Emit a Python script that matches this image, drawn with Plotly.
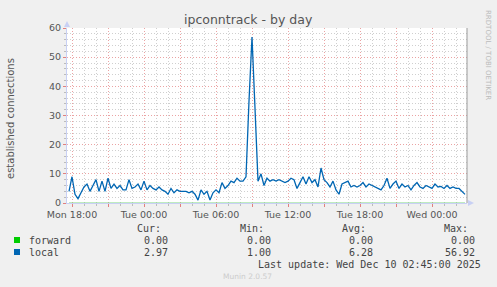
import pandas as pd
import plotly.graph_objects as go

# ---- data (15-minute samples, Mon Dec 8 17:45 -> Wed Dec 10 02:45) ----
start_time = "2025-12-08 17:45"
local_values = [
    4, 9, 3, 1.5, 3.5, 5.5, 6.5, 4, 6, 8,
    4, 7.5, 4, 8.5, 5, 6.5, 5, 6, 4.5, 4.5,
    8, 5, 5.5, 6.5, 4.5, 7.5, 4.5, 6, 5, 4.5,
    5.5, 4.5, 4, 3, 5, 3.5, 4.5, 4, 4, 4,
    3.5, 4, 3, 1, 4.5, 3, 4, 1, 3.5, 4.5,
    3.5, 7, 5, 6, 7.5, 7, 8.5, 7.5, 7.5, 9,
    35, 56.92, 32.5, 7.5, 10, 6, 8.5, 7.5, 8, 7.5,
    8, 7.5, 7, 7.5, 8.5, 8, 5, 7, 9, 6.5,
    9, 7, 8, 5.5, 12, 8, 7, 5.5, 7.5, 4.5,
    3, 6.5, 7, 7.5, 5.5, 6, 5.5, 6, 7, 5.5,
    6.5, 6, 5.5, 5, 4.5, 6, 8.5, 5, 6.5, 7.5,
    5, 6.5, 5.5, 6, 4.5, 6, 7, 5.5, 5, 6,
    5.5, 5, 6.5, 5.5, 5.7, 5, 6, 5, 5.5, 5,
    5, 4, 2.97,
]
forward_values = [0.0] * len(local_values)
times = pd.date_range(start_time, periods=len(local_values), freq="15min")

series_names = ["forward", "local"]
series_colors = ["#00CC00", "#0066B3"]
cur_vals = ["0.00", "2.97"]
min_vals = ["0.00", "1.00"]
avg_vals = ["0.00", "6.28"]
max_vals = ["0.00", "56.92"]

tick_times = ["2025-12-08 18:00", "2025-12-08 21:00", "2025-12-09 00:00", "2025-12-09 03:00",
              "2025-12-09 06:00", "2025-12-09 09:00", "2025-12-09 12:00", "2025-12-09 15:00",
              "2025-12-09 18:00", "2025-12-09 21:00", "2025-12-10 00:00"]
tick_labels = ["Mon 18:00", "", "Tue 00:00", "", "Tue 06:00", "", "Tue 12:00", "",
               "Tue 18:00", "", "Wed 00:00"]

# ---- geometry ----
W, H = 497, 287
L, R, T, B = 67, 467, 28, 203


def px(x):
    return (x - L) / (R - L)


def py(y):
    return (B - y) / (B - T)


fig = go.Figure()
fig.add_trace(go.Scatter(x=times, y=forward_values, mode="lines",
                         line=dict(color="#80D880", width=1.2), hoverinfo="skip"))
fig.add_trace(go.Scatter(x=times, y=local_values, mode="lines",
                         line=dict(color=series_colors[1], width=1.3), hoverinfo="skip"))

grid_minor = "#CFCFCF"
grid_major = "#EBA3A3"
axis_col = "#C8D0F4"
txt = "#555555"
dots = "1px,2px"

fig.update_layout(
    width=W, height=H,
    margin=dict(l=L, r=W - R, t=T, b=H - B, pad=0),
    paper_bgcolor="#F0F0F0", plot_bgcolor="#FFFFFF",
    showlegend=False,
    font=dict(family="DejaVu Sans", size=9.5, color=txt),
    xaxis=dict(
        type="date",
        range=["2025-12-08 17:35", "2025-12-10 02:55"],
        tickmode="array", tickvals=tick_times, ticktext=tick_labels,
        showgrid=True, gridcolor=grid_major, griddash=dots, gridwidth=1,
        ticks="outside", ticklen=3, tickcolor="#E08080",
        showline=True, linecolor=axis_col, linewidth=1,
        zeroline=False,
        tickfont=dict(size=9.5, color=txt),
        minor=dict(dtick=3600000, tick0="2025-12-08 18:00", showgrid=True,
                   gridcolor=grid_minor, griddash=dots, ticks="outside",
                   ticklen=2, tickcolor="#BBBBBB"),
    ),
    yaxis=dict(
        range=[0, 60], tickmode="linear", tick0=0, dtick=10,
        showgrid=True, gridcolor=grid_major, griddash=dots, gridwidth=1,
        ticks="outside", ticklen=3, tickcolor="#E08080",
        showline=True, linecolor=axis_col, linewidth=1,
        zeroline=False,
        tickfont=dict(size=9.5, color=txt),
        minor=dict(dtick=2, tick0=0, showgrid=True, gridcolor=grid_minor,
                   griddash=dots, ticks="outside", ticklen=2, tickcolor="#BBBBBB"),
    ),
)

shapes = []
# right frame line
shapes.append(dict(type="line", xref="paper", yref="paper", x0=1, x1=1, y0=0, y1=1,
                   line=dict(color="#999999", width=1)))
# y-axis arrow (top)
shapes.append(dict(type="path", xref="paper", yref="paper",
                   path=f"M {px(64)} {py(27)} L {px(70)} {py(27)} L {px(67)} {py(21)} Z",
                   fillcolor=axis_col, line=dict(width=0)))
# x-axis arrow (right)
shapes.append(dict(type="path", xref="paper", yref="paper",
                   path=f"M {px(468)} {py(200)} L {px(468)} {py(206)} L {px(474)} {py(203)} Z",
                   fillcolor=axis_col, line=dict(width=0)))
# legend colour boxes
for i, col in enumerate(series_colors):
    yc = 240 + 12 * i
    shapes.append(dict(type="rect", xref="paper", yref="paper",
                       x0=px(14), x1=px(20), y0=py(yc + 3), y1=py(yc - 3),
                       fillcolor=col, line=dict(width=0)))
fig.update_layout(shapes=shapes)

ann = []


def add_text(text, x, y, xanchor="left", size=10, color="#444444", family="DejaVu Sans Mono",
             angle=0):
    ann.append(dict(text=text, x=px(x), y=py(y), xref="paper", yref="paper",
                    xanchor=xanchor, yanchor="middle", showarrow=False, textangle=angle,
                    font=dict(family=family, size=size, color=color)))


# title
add_text("ipconntrack - by day", 248.5, 19, xanchor="center", size=12.5, color="#555555",
         family="DejaVu Sans")
# y-axis title
add_text("established connections", 11, 118, xanchor="center", size=10, color="#555555",
         family="DejaVu Sans", angle=-90)
# rrdtool credit
add_text("RRDTOOL / TOBI OETIKER", 488, 55, xanchor="center", size=7, color="#BBBBBB",
         family="DejaVu Sans", angle=90)

# legend header
add_text("Cur:", 163, 228, xanchor="right")
add_text("Min:", 266, 228, xanchor="right")
add_text("Avg:", 368, 228, xanchor="right")
add_text("Max:", 470, 228, xanchor="right")
for i, name in enumerate(series_names):
    yc = 240 + 12 * i
    add_text(name, 27, yc)
    add_text(cur_vals[i], 170, yc, xanchor="right")
    add_text(min_vals[i], 273, yc, xanchor="right")
    add_text(avg_vals[i], 375, yc, xanchor="right")
    add_text(max_vals[i], 477, yc, xanchor="right")
add_text("Last update: Wed Dec 10 02:45:00 2025", 482.5, 264, xanchor="right")
add_text("Munin 2.0.57", 247.5, 276, xanchor="center", size=7.5, color="#CCCCCC",
         family="DejaVu Sans")

fig.update_layout(annotations=ann)
fig.write_html("out.html")
